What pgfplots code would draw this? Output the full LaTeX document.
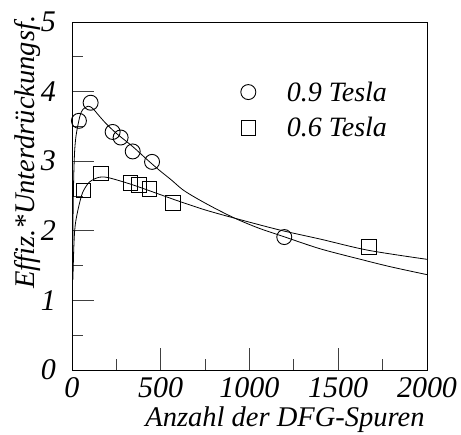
\documentclass[border=0pt]{standalone}
\usepackage{pgfplots}
\pgfplotsset{compat=1.18}
\usepackage{fontspec}
\setmainfont{Liberation Serif}
\begin{document}
\begin{tikzpicture}
\begin{axis}[
  scale only axis, width=355pt, height=348pt,
  xmin=0, xmax=2000, ymin=0, ymax=5,
  axis line style={line width=0.9pt},
  xtick={0,500,1000,1500,2000}, ytick={0,1,2,3,4,5},
  minor x tick num=1, minor y tick num=1,
  xtick pos=left, ytick pos=left,
  tick align=inside,
  major tick length=22pt, minor tick length=11pt,
  tick style={line width=0.8pt, black!75},
  /pgf/number format/assume math mode=true,
  /pgf/number format/1000 sep={},
  scaled x ticks=false,
  tick label style={font=\fontsize{30}{30}\selectfont\itshape, inner sep=0pt},
  xticklabel shift=7pt,
  yticklabel shift=16pt,
  xlabel={Anzahl der DFG-Spuren},
  ylabel={Effiz.*Unterdrückungsf.},
  label style={font=\fontsize{28.5}{28.5}\selectfont\itshape, inner sep=0pt},
  xlabel style={at={(axis description cs:0.6,0)}, anchor=base, yshift=-57pt},
  ylabel style={at={(axis description cs:-0.107,0.626)}, anchor=base},
  legend style={draw=none, fill=none, at={(axis description cs:0.475,0.835)}, anchor=north west,
    font=\fontsize{28}{28}\selectfont\itshape, row sep=11pt, inner sep=0pt,
    nodes={inner sep=2pt}},
  legend cell align=left,
  legend image code/.code={\draw[mark repeat=2,mark phase=2] plot coordinates {(0pt,0pt)(6pt,0pt)(12pt,0pt)};},
]
\addplot[only marks, mark=o, mark size=7.5pt, line width=0.9pt] coordinates {
 (39,3.58) (105,3.84) (229,3.42) (274,3.34) (342,3.14) (451,2.99) (1196,1.91)};
\addlegendentry{\hspace{29pt}0.9 Tesla}
\addplot[only marks, mark=square, mark size=7.2pt, line width=0.9pt] coordinates {
 (66,2.58) (162,2.82) (329,2.69) (377,2.66) (438,2.60) (569,2.40) (1673,1.77)};
\addlegendentry{\hspace{29pt}0.6 Tesla}
\addplot[forget plot, line width=0.8pt, smooth, tension=0.5] coordinates {
 (3,1.28) (6,2.2) (10,2.8) (15,3.15) (22,3.35) (32,3.5) (45,3.65) (60,3.74) (90,3.79)
 (116,3.76) (150,3.66) (192,3.54) (250,3.40) (342,3.21) (420,3.03) (492,2.87) (560,2.73)
 (624,2.59) (700,2.47) (800,2.33) (918,2.18) (1050,2.04) (1200,1.91) (1400,1.74)
 (1641,1.58) (1800,1.48) (2000,1.37)};
\addplot[forget plot, line width=0.8pt, smooth, tension=0.5] coordinates {
 (5,1.3) (10,1.75) (15,2.0) (22,2.15) (38,2.35) (60,2.55) (98,2.70) (154,2.77) (210,2.76)
 (342,2.66) (530,2.49) (608,2.42) (750,2.30) (918,2.18) (1172,2.01) (1400,1.88)
 (1669,1.72) (2000,1.59)};
\end{axis}
\path[use as bounding box] (current axis.south west) ++(-72pt,-65pt) rectangle ++(461pt,435pt);
\end{tikzpicture}
\end{document}
